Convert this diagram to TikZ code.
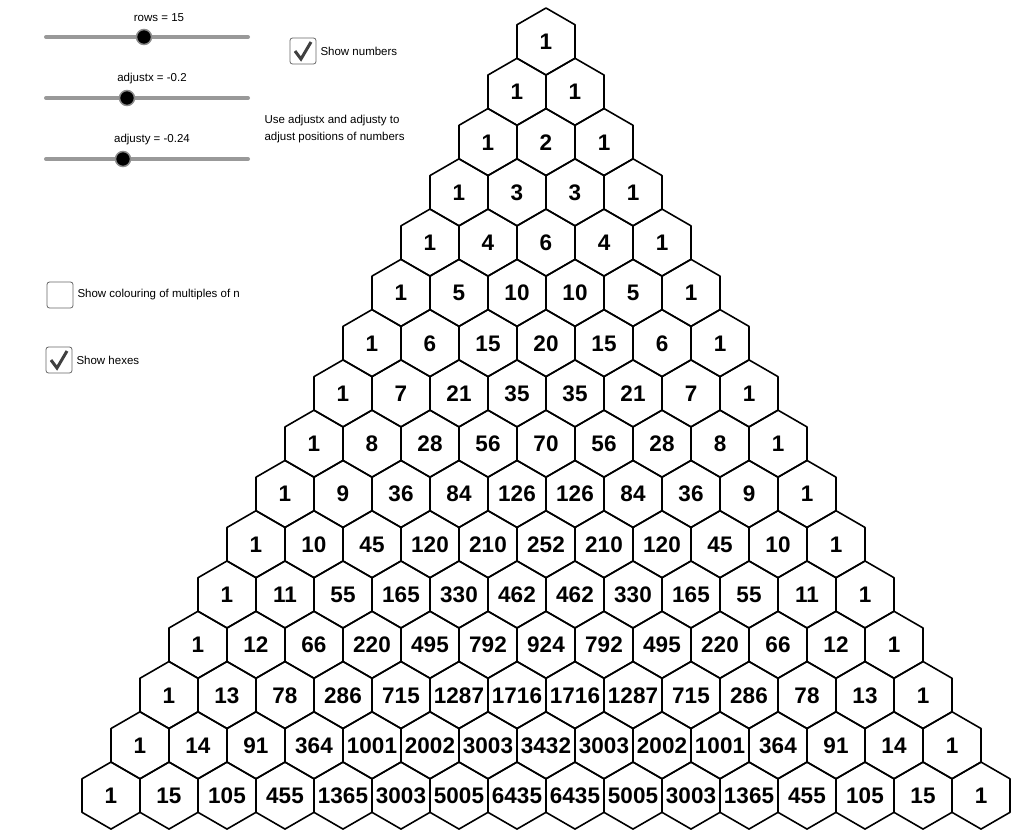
\documentclass[tikz,border=0pt]{standalone}
\usepackage{fontspec}
\setmainfont{Liberation Sans}
\begin{document}
\begin{tikzpicture}[x={(1pt,0pt)}, y={(0pt,-1pt)},
  hexa/.style={line width=1.6pt, line join=round},
  num/.style={font=\fontsize{22.5}{22}\selectfont\bfseries, anchor=base, inner sep=0pt},
  lab/.style={font=\fontsize{11.5}{17}\selectfont},
  track/.style={line width=4pt, color=black!40, line cap=round},
  knob/.style={fill=black, draw=black!45, line width=1.5pt},
  tickbox/.style={draw=black!60, line width=0.8pt, rounded corners=2.5pt}]

 \useasboundingbox (0,0) rectangle (1031,839);

 %%%%%%%%%% Sliders %%%%%%%%%%
 \foreach \name/\ty/\kx/\tx in {rows = 15/37/144/159, adjustx = -0.2/98/127/152, adjusty = -0.24/159/123/152} {
   \draw[track] (46,\ty) -- (248,\ty);
   \draw[knob] (\kx,\ty) circle (7.5);
   \node[lab] at (\tx,\ty-19) {\name};
 }

 %%%%%%%%%% Check boxes %%%%%%%%%%
 \draw[tickbox] (290,38) rectangle (316,64);
 \draw[line width=3pt, color=black!75] (295,51) -- (301,59) -- (311,42);
 \node[lab, anchor=west] at (317,51) {Show numbers};
 \draw[tickbox] (47,282) rectangle (73,308);
 \node[lab, anchor=west] at (74,295) {Show colouring of multiples of n};
 \draw[tickbox] (46,347) rectangle (72,373);
 \draw[line width=3pt, color=black!75] (51,360) -- (57,368) -- (67,351);
 \node[lab, anchor=west] at (73,360) {Show hexes};
 \node[lab, anchor=west, align=left] at (261,129) {Use adjustx and adjusty to\\adjust positions of numbers};

 %%%%%%%%%% Hexes and numbers %%%%%%%%%%
 \foreach \r in {0,...,15} {
   \gdef\val{1}
   \foreach \k in {0,...,\r} {
     \pgfmathsetmacro{\hx}{546+58*(\k-\r/2)}
     \pgfmathsetmacro{\hy}{41.5+50.27*\r}
     \draw[hexa] (\hx,\hy) ++(90:33.5) -- ++(-150:33.5) -- ++(-90:33.5) -- ++(-30:33.5) -- ++(30:33.5) -- ++(90:33.5) -- cycle;
     \node[num] (h-\r-\k) at (\hx,\hy+8) {\val};
     \xdef\val{\the\numexpr \val*(\r-\k)/(\k+1)\relax}
   }
 }

\end{tikzpicture}
\end{document}
